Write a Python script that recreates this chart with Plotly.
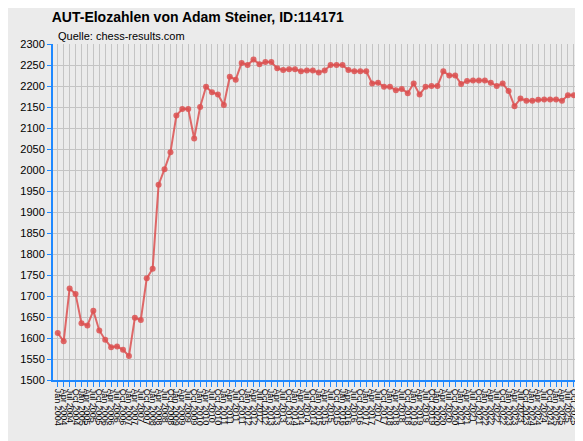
import plotly.graph_objects as go

# Elo values, one per rating list
elo = [1612, 1592, 1718, 1705, 1635, 1630, 1665, 1618, 1596, 1578, 1580, 1572, 1557,
       1648, 1643, 1742, 1765, 1965, 2002, 2042, 2130, 2145, 2145, 2075, 2150, 2198,
       2185, 2180, 2155, 2222, 2215, 2255, 2250, 2263, 2252, 2257, 2257, 2242, 2238,
       2240, 2240, 2235, 2237, 2237, 2232, 2237, 2250, 2250, 2250, 2238, 2235, 2235,
       2235, 2206, 2208, 2198, 2198, 2190, 2193, 2183, 2206, 2180, 2198, 2200, 2200,
       2235, 2225, 2225, 2205, 2212, 2213, 2213, 2213, 2208, 2200, 2206, 2188, 2152,
       2170, 2165, 2165, 2167, 2168, 2168, 2168, 2165, 2178, 2178]

# rating list labels
years = list(range(2002, 2026))
labels = []
for y in years:
    for m in ['Jan', 'Apr', 'Jul', 'Oct']:
        labels.append(m + ' ' + str(y))
labels = labels[-len(elo):]

fig = go.Figure()
fig.add_trace(go.Scatter(x=labels, y=elo, mode='lines+markers',
                         line=dict(color='rgba(220,80,80,0.85)', width=2),
                         marker=dict(color='rgba(220,80,80,0.85)', size=6)))

fig.update_layout(
    width=583, height=441,
    margin=dict(l=42, r=12, t=36, b=69),
    paper_bgcolor='#ebebeb', plot_bgcolor='#ebebeb',
    showlegend=False,
    font=dict(family='Arial, Liberation Sans', size=11, color='black'),
    title=dict(text='<b>AUT-Elozahlen von Adam Steiner, ID:114171</b>', x=0.075, y=0.99,
               xanchor='left', yanchor='top', font=dict(size=14)),
    annotations=[dict(text='Quelle: chess-results.com', x=0.006, y=1.0, xref='paper',
                      yref='paper', showarrow=False, xanchor='left', yanchor='bottom',
                      font=dict(size=11))],
)
fig.update_xaxes(type='category', showgrid=True, gridcolor='#c4c4c4', tickangle=90,
                 tickmode='array', tickvals=labels, ticktext=labels,
                 tickfont=dict(size=9), ticks='outside', tickcolor='#1e88ff', ticklen=5,
                 showline=True, linecolor='#1e88ff', linewidth=2, range=[-0.8, len(elo) - 0.3])
fig.update_yaxes(range=[1500, 2300], dtick=50, showgrid=True, gridcolor='#c4c4c4',
                 ticks='outside', tickcolor='#1e88ff', ticklen=4, showline=True,
                 linecolor='#1e88ff', linewidth=2, zeroline=False)

fig.write_html('out.html')
